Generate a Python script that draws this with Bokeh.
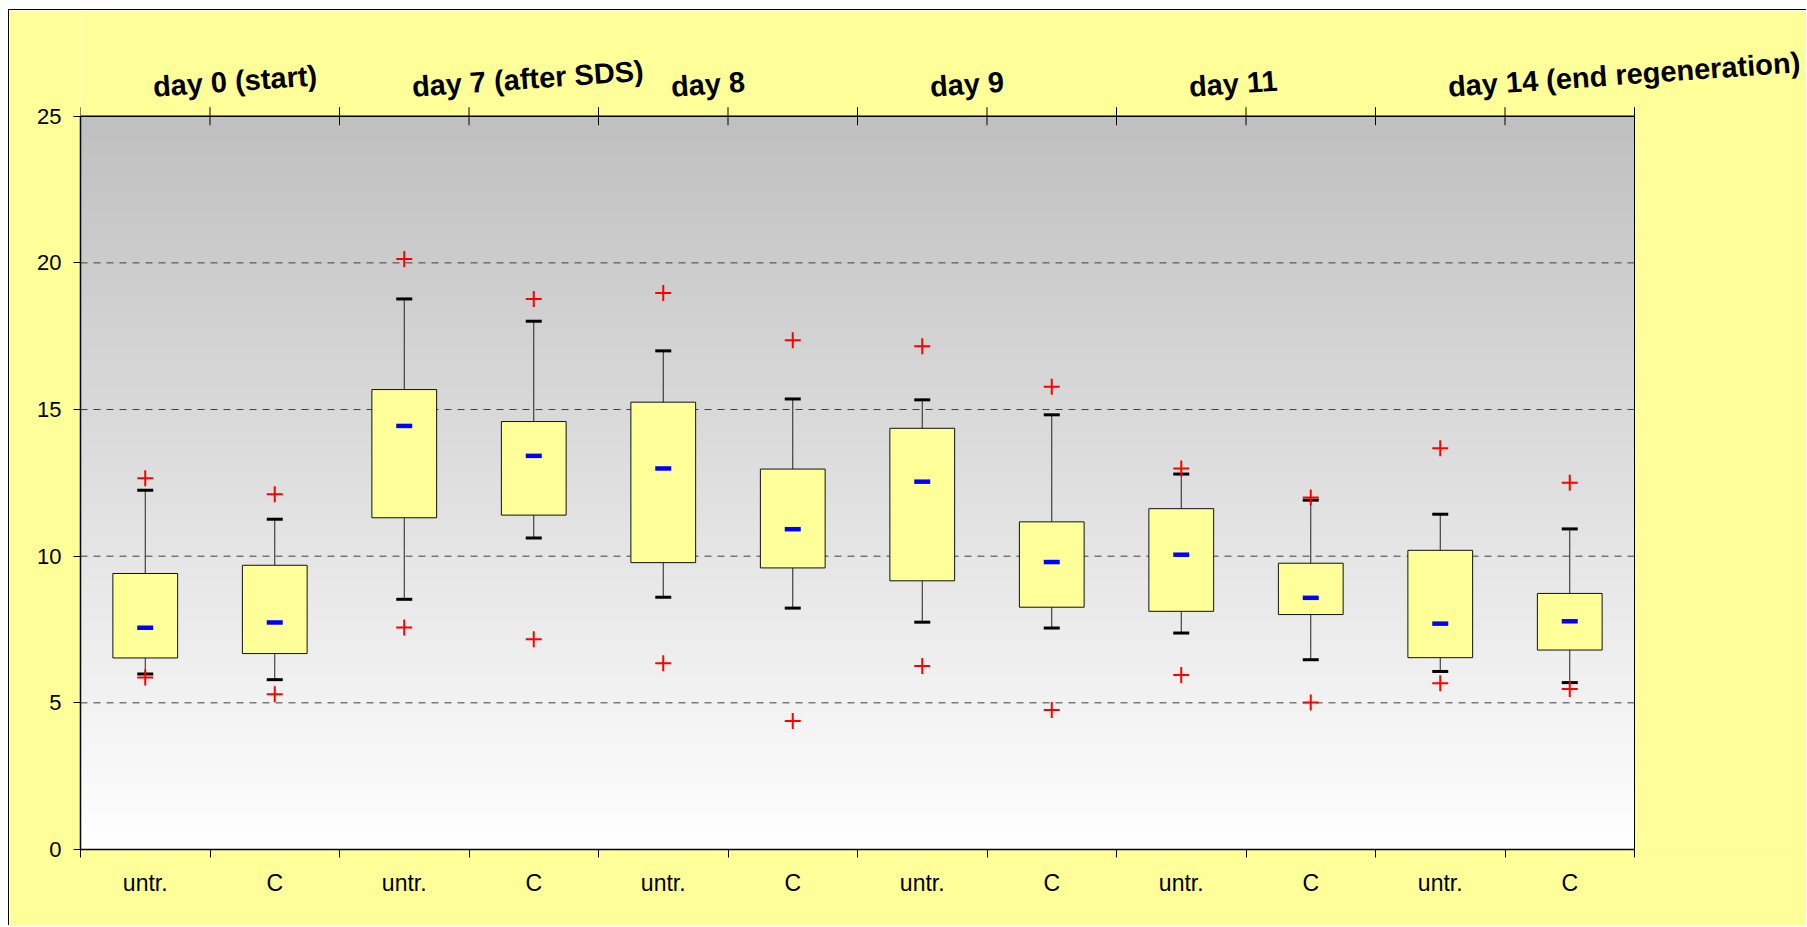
import numpy as np
from bokeh.plotting import figure
from bokeh.models import Range1d, FixedTicker, LinearAxis
from bokeh.core.properties import value
from bokeh.embed import file_html
from bokeh.resources import INLINE

# ---------------- data ----------------
groups = ["untr.", "C", "untr.", "C", "untr.", "C", "untr.", "C", "untr.", "C", "untr.", "C"]
days = ["day 0 (start)", "day 7 (after SDS)", "day 8", "day 9", "day 11", "day 14 (end regeneration)"]
upper_outlier = [12.66, 12.11, 20.13, 18.77, 18.97, 17.36, 17.16, 15.78, 12.99, 12.00, 13.68, 12.50]
upper_whisker = [12.25, 11.26, 18.77, 18.01, 17.00, 15.36, 15.33, 14.82, 12.80, 11.91, 11.43, 10.93]
q3 = [9.41, 9.69, 15.68, 14.59, 15.25, 12.97, 14.36, 11.17, 11.62, 9.76, 10.20, 8.73]
mean = [7.56, 7.74, 14.44, 13.42, 12.99, 10.92, 12.54, 9.80, 10.05, 8.58, 7.70, 7.78]
q1 = [6.53, 6.68, 11.31, 11.40, 9.78, 9.60, 9.16, 8.26, 8.12, 8.01, 6.54, 6.80]
lower_whisker = [5.98, 5.79, 8.53, 10.62, 8.60, 8.23, 7.75, 7.55, 7.38, 6.47, 6.07, 5.69]
lower_outlier = [5.86, 5.29, 7.57, 7.17, 6.35, 4.38, 6.26, 4.76, 5.95, 5.01, 5.67, 5.47]
y_ticks = [0, 5, 10, 15, 20, 25]
grid_values = [5, 10, 15, 20]
Y_TOP = 25

n = len(groups)
xc = [i + 0.5 for i in range(n)]
FONT = "Liberation Sans"

# ---------------- geometry ----------------
W, H = 1798, 916
LEFT, BOTTOM, TOP = 71, 77, 3
CAT_PX = 129.5
frame_h = H - BOTTOM - TOP
ppu = (838.6 - 105.3) / Y_TOP
y_max = frame_h / ppu
x_max = (W - LEFT) / CAT_PX

p = figure(width=W, height=H, output_backend="svg", toolbar_location=None,
           x_range=Range1d(0, x_max), y_range=Range1d(0, y_max),
           min_border_left=LEFT, min_border_right=0, min_border_top=TOP,
           min_border_bottom=BOTTOM, x_axis_type=None, y_axis_type=None)
p.margin = (9, 0, 0, 8)
p.styles = {"border-top": "1px solid black", "border-left": "1px solid black"}
p.border_fill_color = "#FFFF99"
p.background_fill_color = "#FFFF99"
p.outline_line_color = None
p.xgrid.visible = False
p.ygrid.visible = False

# gradient background of the plot area (gray top -> white bottom)
rows = 256
t = np.linspace(0, 1, rows)  # bottom -> top
g = (255 - t * (255 - 192)).astype(np.uint32)
img = np.empty((rows, 1), dtype=np.uint32)
view = img.view(dtype=np.uint8).reshape((rows, 1, 4))
view[:, 0, 0] = g
view[:, 0, 1] = g
view[:, 0, 2] = g
view[:, 0, 3] = 255
bg = p.image_rgba(image=[img], x=0, y=0, dw=n, dh=Y_TOP)
bg.level = "image"

# ---------------- axes ----------------
yaxis = LinearAxis(ticker=FixedTicker(ticks=y_ticks, minor_ticks=[]), bounds=(0, Y_TOP))
yaxis.major_tick_in = 0
yaxis.major_tick_out = 7
yaxis.major_tick_line_color = "black"
yaxis.axis_line_color = "black"
yaxis.axis_line_width = 1.5
yaxis.major_label_text_font = FONT
yaxis.major_label_text_font_size = "22px"
yaxis.major_label_text_color = "black"
yaxis.major_label_standoff = 12
p.add_layout(yaxis, "left")

xaxis = LinearAxis(ticker=FixedTicker(ticks=xc, minor_ticks=list(range(n + 1))), bounds=(0, n))
xaxis.major_label_overrides = {x: g_ for x, g_ in zip(xc, groups)}
xaxis.major_tick_in = 0
xaxis.major_tick_out = 0
xaxis.minor_tick_in = 0
xaxis.minor_tick_out = 8
xaxis.minor_tick_line_color = "black"
xaxis.axis_line_color = "black"
xaxis.axis_line_width = 1.5
xaxis.major_label_text_font = FONT
xaxis.major_label_text_font_size = "23px"
xaxis.major_label_text_color = "black"
xaxis.major_label_standoff = 12
p.add_layout(xaxis, "below")

# dashed horizontal grid lines (inside the plot area only)
p.segment(x0=[0] * len(grid_values), y0=grid_values, x1=[n] * len(grid_values), y1=grid_values,
          line_color="#404040", line_dash="7 6", line_width=1)

# top border with crossing ticks at every category boundary, right border
p.segment(x0=[0, n], y0=[Y_TOP, 0], x1=[n, n], y1=[Y_TOP, Y_TOP], line_color="black",
          line_width=[1.5, 1])
p.scatter(x=list(range(n + 1)), y=[Y_TOP] * (n + 1), marker="dash", angle=np.pi / 2,
          size=18, line_color="black", line_width=1)

# ---------------- box plots ----------------
p.segment(x0=xc, y0=lower_whisker, x1=xc, y1=upper_whisker, line_color="#222222", line_width=1)
p.vbar(x=xc, width=0.5, top=q3, bottom=q1, fill_color="#FFFF99", line_color="#111111", line_width=1)
p.scatter(x=xc + xc, y=upper_whisker + lower_whisker, marker="dash", size=16,
          line_color="black", line_width=3)
p.scatter(x=xc, y=mean, marker="dash", size=16, line_color="#0000FF", line_width=4.5)
p.scatter(x=xc + xc, y=upper_outlier + lower_outlier, marker="cross", size=16,
          line_color="#FF0000", line_width=2)

# ---------------- day labels above the plot ----------------
day_x = [2 * i + 1 for i in range(len(days))]
p.text(x=day_x, y=[Y_TOP + 1.0] * len(days), text=days, x_offset=-57, angle=0.07,
       text_font=value(FONT), text_font_style="bold", text_font_size="29px",
       text_color="black", text_align="left", text_baseline="alphabetic")

open("out.html", "w").write(file_html(p, INLINE))
